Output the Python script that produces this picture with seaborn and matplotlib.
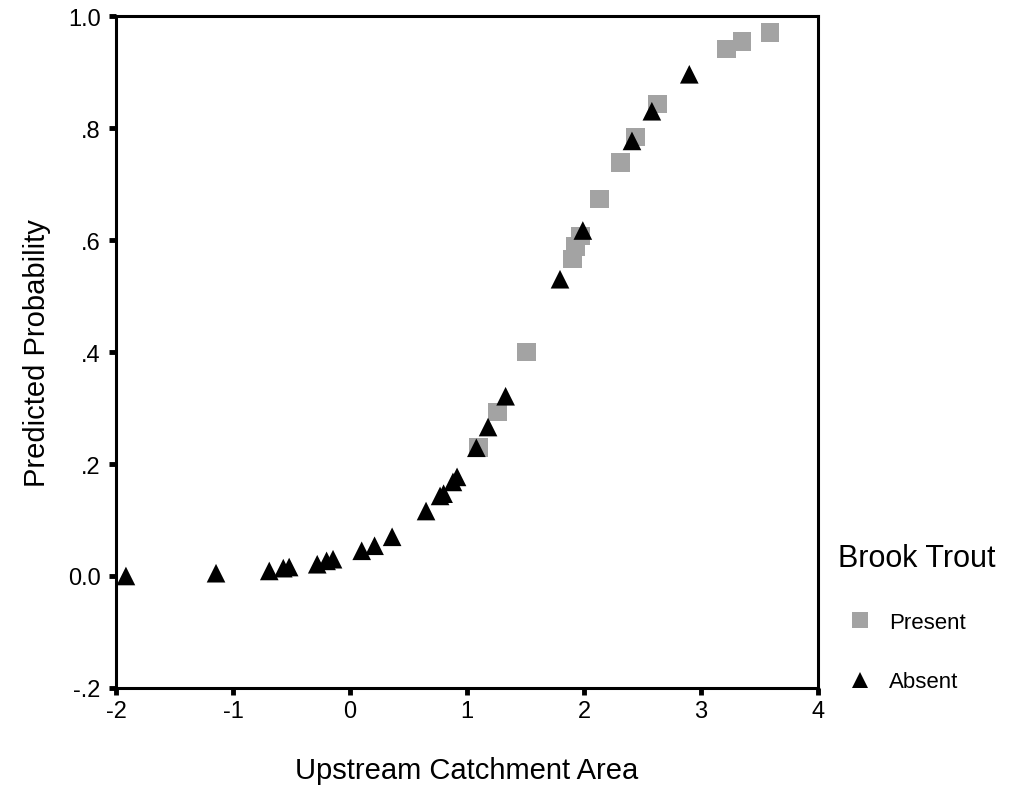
import matplotlib
matplotlib.use("Agg")
import matplotlib.pyplot as plt
import seaborn as sns
import pandas as pd

# Upstream catchment area (standardised) and predicted probability of brook trout
present_x = [3.59, 3.35, 3.22, 2.63, 2.44, 2.31, 2.13, 1.97, 1.93, 1.90, 1.51, 1.26, 1.10]
present_y = [0.971, 0.955, 0.941, 0.843, 0.784, 0.739, 0.673, 0.607, 0.588, 0.566, 0.400, 0.293, 0.229]

absent_x = [-1.915, -1.145, -0.69, -0.57, -0.52, -0.28, -0.20, -0.145, 0.10, 0.21, 0.36,
            0.65, 0.77, 0.80, 0.88, 0.915, 1.08, 1.18, 1.33, 1.795, 1.99, 2.41, 2.58, 2.90]
absent_y = [0.000, 0.005, 0.009, 0.014, 0.016, 0.021, 0.027, 0.030, 0.045, 0.054, 0.070,
            0.116, 0.143, 0.147, 0.168, 0.177, 0.229, 0.266, 0.321, 0.530, 0.617, 0.777, 0.830, 0.896]

groups = ["Present", "Absent"]
x_ticks = [-2, -1, 0, 1, 2, 3, 4]
y_ticks = [-0.2, 0.0, 0.2, 0.4, 0.6, 0.8, 1.0]
y_tick_labels = ["-.2", "0.0", ".2", ".4", ".6", ".8", "1.0"]

df = pd.DataFrame({
    "area": present_x + absent_x,
    "prob": present_y + absent_y,
    "trout": ["Present"] * len(present_x) + ["Absent"] * len(absent_x),
})

sns.set_style("ticks")
plt.rcParams["font.family"] = ["Liberation Sans", "DejaVu Sans"]
plt.rcParams["text.color"] = "black"
plt.rcParams["axes.labelcolor"] = "black"

fig = plt.figure(figsize=(10.13, 8.12), dpi=100)
ax = fig.add_axes([0.1145, 0.1515, 0.693, 0.8275])

sns.scatterplot(
    data=df, x="area", y="prob", hue="trout", style="trout",
    hue_order=groups, style_order=groups,
    palette={"Present": "#a3a3a3", "Absent": "black"},
    markers={"Present": "s", "Absent": "^"},
    s=180, linewidth=0, ax=ax,
)

ax.set_xlim(-2, 4)
ax.set_ylim(-0.2, 1.0)
ax.set_xticks(x_ticks)
ax.set_xticklabels([str(t) for t in x_ticks])
ax.set_yticks(y_ticks)
ax.set_yticklabels(y_tick_labels)

for side in ["top", "right", "bottom", "left"]:
    ax.spines[side].set_visible(True)
    ax.spines[side].set_linewidth(2.2)
    ax.spines[side].set_color("black")

ax.tick_params(axis="both", direction="out", length=5, width=3.5, color="black",
               labelsize=17, labelcolor="black")
ax.tick_params(axis="y", pad=6)
ax.tick_params(axis="x", pad=4)

ax.set_xlabel("Upstream Catchment Area", fontsize=21, labelpad=24, color="black")
ax.set_ylabel("Predicted Probability", fontsize=21, labelpad=12, color="black")

handles, labels = ax.get_legend_handles_labels()
ax.legend(handles, labels, title="Brook Trout", frameon=False,
          loc="upper left", bbox_to_anchor=(1.0, 0.246),
          fontsize=16, title_fontsize=22, labelspacing=1.75,
          handletextpad=0.3, markerscale=0.85)
leg = ax.get_legend()
leg._legend_box.align = "left"
for t in leg.get_texts():
    t.set_color("black")
leg.get_title().set_color("black")

fig.savefig("out.png", dpi=100, facecolor="white")
